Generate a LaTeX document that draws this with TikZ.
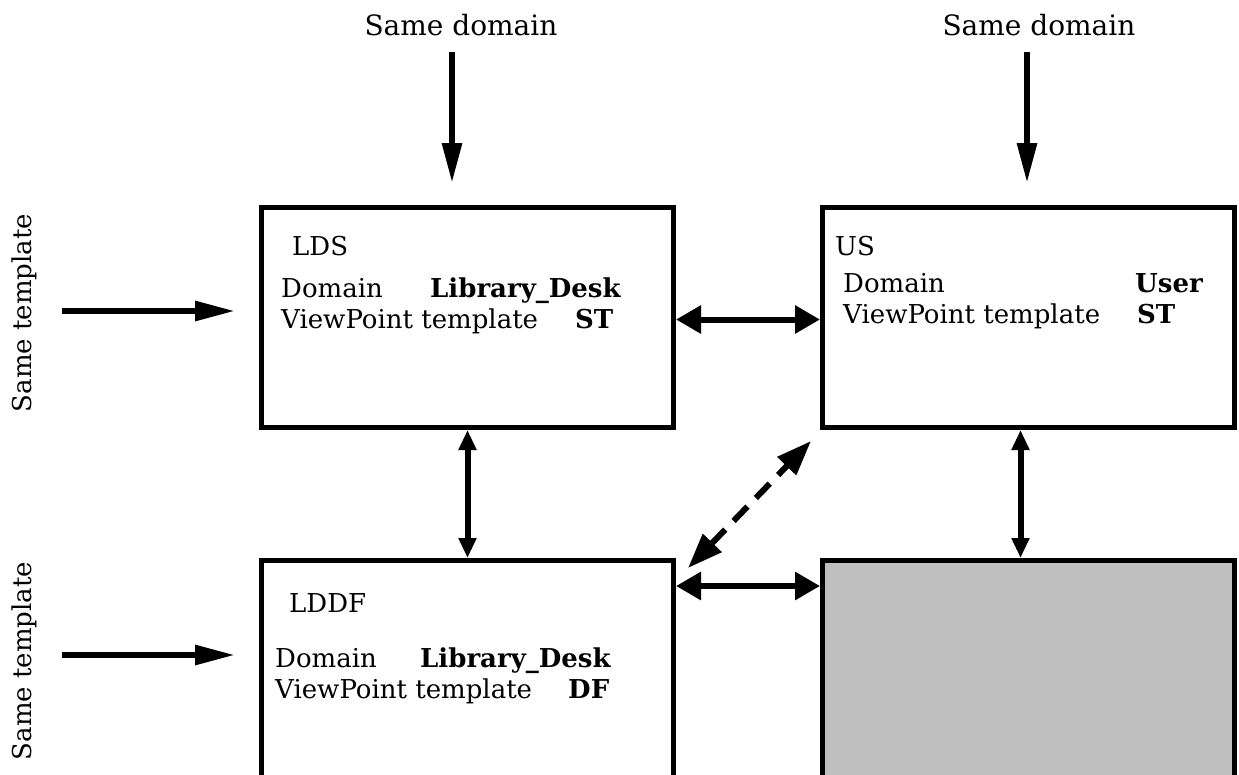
\documentclass[tikz,border=0pt]{standalone}
\usepackage{fontspec}
\setmainfont{DejaVu Serif}
\usetikzlibrary{arrows.meta}
\begin{document}
\begin{tikzpicture}[x=1pt,y=-1pt,
  every node/.style={font=\fontsize{26}{31}\selectfont},
  vpbox/.style={draw,line width=5pt,minimum width=412pt,minimum height=220pt,inner sep=0pt},
  lbl/.style={anchor=base west,inner sep=0pt},
  bl/.style={lbl,font=\fontsize{26}{31}\selectfont\bfseries},
  outer/.style={font=\fontsize{28}{33}\selectfont},
  feed/.style={line width=6pt,-{Triangle[length=40pt,width=19pt]}},
  linkh/.style={line width=6pt,{Triangle[length=25pt,width=27pt]}-{Triangle[length=25pt,width=27pt]}},
  linkv/.style={line width=6pt,{Triangle[length=20pt,width=17pt]}-{Triangle[length=20pt,width=17pt]}},
  linkd/.style={line width=6pt,dash pattern=on 20pt off 12pt,{Triangle[length=35pt,width=25pt]}-{Triangle[length=35pt,width=25pt]}}]
\useasboundingbox (0,0) rectangle (1239,774);
\clip (0,0) rectangle (1239,774);

% ViewPoint boxes
\node[vpbox] (LDS) at (467.5,317.5) {};
\node[vpbox] (US) at (1028.5,317.5) {};
\node[vpbox,minimum height=240pt] (LDDF) at (467.5,680.5) {};
\node[vpbox,minimum height=240pt,fill={rgb,255:red,191;green,191;blue,191}] (GR) at (1028.5,680.5) {};

% box contents
\node[lbl] (ldsname) at (292,255) {LDS};
\node[lbl] (ldsdom) at (281,297) {Domain};
\node[bl] (ldsdomv) at (430,297) {Library\_Desk};
\node[lbl] (ldstpl) at (281,328) {ViewPoint template};
\node[bl] (ldstplv) at (575,328) {ST};

\node[lbl] (usname) at (835,255) {US};
\node[lbl] (usdom) at (843,292) {Domain};
\node[bl] (usdomv) at (1135,292) {User};
\node[lbl] (ustpl) at (843,323) {ViewPoint template};
\node[bl] (ustplv) at (1137,323) {ST};

\node[lbl] (lddfname) at (289,612) {LDDF};
\node[lbl] (lddfdom) at (275,667) {Domain};
\node[bl] (lddfdomv) at (420,667) {Library\_Desk};
\node[lbl] (lddftpl) at (275,698) {ViewPoint template};
\node[bl] (lddftplv) at (568,698) {DF};

% outside labels
\node[outer,anchor=base] (sd1) at (461,35) {Same domain};
\node[outer,anchor=base] (sd2) at (1039,35) {Same domain};
\node[rotate=90,inner sep=0pt] (st1) at (24,313) {Same template};
\node[rotate=90,inner sep=0pt] (st2) at (24,661) {Same template};

% incoming arrows
\coordinate (a1s) at (452,52);  \coordinate (a1e) at (452,183);
\coordinate (a2s) at (1027,52); \coordinate (a2e) at (1027,183);
\coordinate (b1s) at (62,311);  \coordinate (b1e) at (235,311);
\coordinate (b2s) at (62,655);  \coordinate (b2e) at (235,655);
\draw[feed] (a1s) -- (a1e);
\draw[feed] (a2s) -- (a2e);
\draw[feed] (b1s) -- (b1e);
\draw[feed] (b2s) -- (b2e);

% links between ViewPoints
\draw[linkh] ([yshift=-2pt]LDS.east) -- ([yshift=-2pt]US.west);
\coordinate (hb) at (0,586);
\draw[linkh] (LDDF.east |- hb) -- (GR.west |- hb);
\draw[linkv] (LDS.south) -- (LDDF.north);
\draw[linkv] ([xshift=-8pt]US.south) -- ([xshift=-8pt]GR.north);
\coordinate (d1) at ([shift={(12,10)}]LDDF.north east);
\coordinate (d2) at ([shift={(-9,11)}]US.south west);
\draw[linkd] (d1) -- (d2);
\end{tikzpicture}
\end{document}
